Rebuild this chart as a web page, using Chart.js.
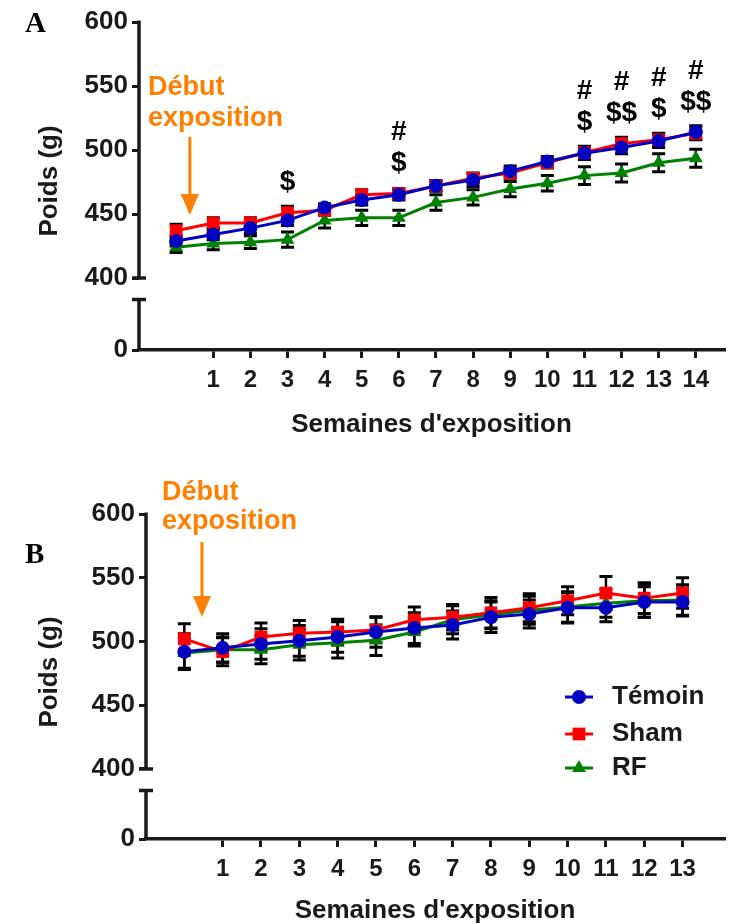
<!DOCTYPE html>
<html>
<head>
<meta charset="utf-8">
<script src="https://cdn.jsdelivr.net/npm/chart.js@4.4.0/dist/chart.umd.min.js"></script>
<style>
  body { margin: 0; background: #fff; width: 733px; height: 924px; position: relative; overflow: hidden; }
  .wrap { position: absolute; left: 0; width: 733px; }
  #wrapA { top: 0; height: 450px; }
  #wrapB { top: 470px; height: 470px; }
  .panel { position: absolute; left: 25px; font-family: "Liberation Serif", serif; font-weight: bold; font-size: 29px; line-height: 1; }
</style>
</head>
<body>
<div class="wrap" id="wrapA"><canvas id="chartA" width="733" height="450"></canvas></div>
<div class="wrap" id="wrapB"><canvas id="chartB" width="733" height="470"></canvas></div>
<div class="panel" style="top:8px">A</div>
<div class="panel" style="top:539px">B</div>
<script>
// Panel A : semaines 0..14
const weeksA = [0, 1, 2, 3, 4, 5, 6, 7, 8, 9, 10, 11, 12, 13, 14];
const temoinA = [429, 434, 439, 445, 455, 461, 465, 472, 476.5, 483.5, 491, 497.5, 502, 507, 514];
const shamA = [437, 443, 443, 451, 453, 465, 466, 472, 478, 482, 490, 498, 505, 508, 513];
const rfA = [424, 427, 428, 430, 445, 447, 447, 459, 463, 469.5, 474, 480, 482, 490, 493.5];
const temoinErrA = [4, 4, 4, 4, 3, 4, 4, 4, 5, 4, 4, 5, 5, 5, 5];
const shamErrA = [5, 4, 4, 5, 4, 4, 4, 4, 4, 4, 4, 5, 5, 5, 5];
const rfErrA = [4, 5, 5, 6, 6, 6, 6, 6, 6, 6, 6, 7, 7, 7, 7];

// annotations de significativite (panel A)
const starWeeks = [3, 6, 11, 12, 13, 14];
const hashMarks = ['', '#', '#', '#', '#', '#'];
const dollarMarks = ['$', '$', '$', '$$', '$', '$$'];

// Panel B : semaines 0..13
const weeksB = [0, 1, 2, 3, 4, 5, 6, 7, 8, 9, 10, 11, 12, 13];
const temoinB = [492, 495, 498, 500.5, 503.5, 507.5, 510.5, 513, 519, 521.5, 526.5, 526.5, 531, 531];
const shamB = [502, 492, 503.5, 506.5, 507.5, 509, 517, 519, 522.5, 526.5, 532, 538, 534, 538];
const rfB = [491, 493.5, 493.5, 497.5, 499, 501, 507.5, 517, 521, 524.5, 527, 530, 532, 532.5];
const temoinErrB = [14, 11, 12, 12, 12, 12, 12, 11, 12, 11, 12, 11, 12, 11];
const shamErrB = [12, 11, 11, 10, 10, 10, 10, 10, 12, 11, 11, 13, 12, 12];
const rfErrB = [12, 10, 11, 12, 12, 12, 11, 11, 11, 11, 12, 11, 13, 12];

const yTicks = [400, 450, 500, 550, 600];
const seriesNames = ['Témoin', 'Sham', 'RF'];

const BLUE = '#0000c0';
const RED = '#ff0000';
const GREEN = '#008000';
const ORANGE = '#ff8000';
const AXIS = '#1a1a1a';
const FONT = '"Liberation Sans", Arial, sans-serif';

Chart.defaults.font.family = FONT;
Chart.defaults.font.weight = 'bold';
Chart.defaults.color = AXIS;

const styles = [
  { color: BLUE, pointStyle: 'circle', radius: 7 },
  { color: RED, pointStyle: 'rect', radius: 9 },
  { color: GREEN, pointStyle: 'triangle', radius: 8 }
];

function makeDataset(i, weeks, values, errors) {
  const s = styles[i];
  return {
    label: seriesNames[i],
    data: weeks.map((w, k) => ({ x: w, y: values[k] })),
    errors: errors,
    xAxisID: 'x',
    yAxisID: 'y',
    borderColor: s.color,
    backgroundColor: s.color,
    borderWidth: 3,
    pointStyle: s.pointStyle,
    pointRadius: s.radius,
    pointBorderWidth: 0,
    tension: 0,
    clip: false
  };
}

// barres d'erreur (SEM)
const errorBars = {
  id: 'errorBars',
  beforeDatasetsDraw(chart) {
    const { ctx, scales: { x, y } } = chart;
    ctx.save();
    ctx.strokeStyle = '#000';
    chart.data.datasets.forEach(ds => {
      ds.data.forEach((p, k) => {
        const e = ds.errors[k];
        const px = x.getPixelForValue(p.x);
        const y1 = y.getPixelForValue(p.y + e);
        const y2 = y.getPixelForValue(p.y - e);
        ctx.lineWidth = 2.5;
        ctx.beginPath();
        ctx.moveTo(px, y1); ctx.lineTo(px, y2);
        ctx.stroke();
        ctx.lineWidth = 3;
        ctx.beginPath();
        ctx.moveTo(px - 6.5, y1); ctx.lineTo(px + 6.5, y1);
        ctx.moveTo(px - 6.5, y2); ctx.lineTo(px + 6.5, y2);
        ctx.stroke();
      });
    });
    ctx.restore();
  }
};

// axe Y coupe (400-600 puis 0)
const brokenAxis = {
  id: 'brokenAxis',
  beforeDatasetsDraw(chart) {
    const { ctx, chartArea, scales: { y, y0 } } = chart;
    const ax = chartArea.left;
    const top = y.getPixelForValue(600) - 1.5;
    const low = y.getPixelForValue(400);
    const cap = y0.top + 1.5;
    const zero = y0.getPixelForValue(0);
    ctx.save();
    ctx.strokeStyle = AXIS;
    ctx.lineWidth = 3.5;
    ctx.beginPath();
    ctx.moveTo(ax, top); ctx.lineTo(ax, low);
    ctx.moveTo(ax - 7, low); ctx.lineTo(ax + 7, low);
    ctx.moveTo(ax, cap); ctx.lineTo(ax, zero);
    ctx.moveTo(ax - 7, cap); ctx.lineTo(ax + 7, cap);
    ctx.stroke();
    ctx.restore();
  }
};

// texte "Début exposition", fleche et titre Y
function decor(cfg) {
  return {
    id: 'decor',
    afterDraw(chart) {
      const { ctx, scales: { x } } = chart;
      ctx.save();
      ctx.fillStyle = ORANGE;
      ctx.font = 'bold 27px ' + FONT;
      ctx.textAlign = 'left';
      ctx.textBaseline = 'middle';
      ctx.fillText('Début', cfg.textX, cfg.line1);
      ctx.fillText('exposition', cfg.textX, cfg.line2);
      const ax = x.getPixelForValue(cfg.arrowWeek);
      ctx.strokeStyle = ORANGE;
      ctx.lineWidth = 3;
      ctx.beginPath();
      ctx.moveTo(ax, cfg.arrowTop);
      ctx.lineTo(ax, cfg.arrowTip - 18);
      ctx.stroke();
      ctx.beginPath();
      ctx.moveTo(ax - 9, cfg.arrowTip - 21);
      ctx.lineTo(ax + 9, cfg.arrowTip - 21);
      ctx.lineTo(ax, cfg.arrowTip);
      ctx.closePath();
      ctx.fill();
      // titre Y
      ctx.fillStyle = AXIS;
      ctx.font = 'bold 26px ' + FONT;
      ctx.textAlign = 'center';
      ctx.translate(cfg.titleX, cfg.titleY);
      ctx.rotate(-Math.PI / 2);
      ctx.fillText('Poids (g)', 0, 0);
      ctx.restore();
    }
  };
}

// $ et # au-dessus des points (panel A)
const signifMarks = {
  id: 'signifMarks',
  afterDatasetsDraw(chart) {
    const { ctx, scales: { x, y } } = chart;
    ctx.save();
    ctx.fillStyle = '#000';
    ctx.font = 'bold 28px ' + FONT;
    ctx.textAlign = 'center';
    ctx.textBaseline = 'middle';
    starWeeks.forEach((w, k) => {
      const top = Math.max(temoinA[w], shamA[w], rfA[w]);
      const px = x.getPixelForValue(w);
      const py = y.getPixelForValue(top);
      ctx.fillText(dollarMarks[k], px, py - 30);
      if (hashMarks[k]) ctx.fillText(hashMarks[k], px, py - 61);
    });
    ctx.restore();
  }
};

// legende (panel B)
const legendB = {
  id: 'legendB',
  afterDraw(chart) {
    const { ctx } = chart;
    const rows = [227, 264, 298];
    ctx.save();
    chart.data.datasets.forEach((ds, i) => {
      const ry = rows[i];
      ctx.strokeStyle = ds.borderColor;
      ctx.fillStyle = ds.borderColor;
      ctx.lineWidth = 3;
      ctx.beginPath();
      ctx.moveTo(565, ry); ctx.lineTo(593, ry);
      ctx.stroke();
      Chart.helpers.drawPoint(ctx, { pointStyle: ds.pointStyle, radius: ds.pointRadius, borderWidth: 0 }, 579, ry);
      ctx.fillStyle = AXIS;
      ctx.font = 'bold 26px ' + FONT;
      ctx.textBaseline = 'middle';
      ctx.fillText(ds.label, 612, ry);
    });
    ctx.restore();
  }
};

function buildChart(id, o) {
  const ctx = document.getElementById(id).getContext('2d');
  const tickFont = { size: 26, weight: 'bold' };
  return new Chart(ctx, {
    type: 'line',
    data: { datasets: o.datasets },
    options: {
      responsive: false,
      animation: false,
      events: [],
      layout: { padding: { top: o.top, right: 0, bottom: 0, left: 0 } },
      plugins: { legend: { display: false }, tooltip: { enabled: false } },
      scales: {
        x: {
          type: 'linear',
          min: -1,
          max: o.xMax,
          afterBuildTicks: s => { s.ticks = o.xTicks.map(v => ({ value: v })); },
          afterFit: s => { s.height = o.xHeight; },
          border: { display: true, width: 3.5, color: AXIS },
          grid: { drawOnChartArea: false, drawTicks: true, tickLength: 8, lineWidth: 3, color: AXIS },
          ticks: { font: { size: 24, weight: 'bold' }, color: AXIS, padding: 8, maxRotation: 0, autoSkip: false },
          title: { display: true, text: "Semaines d'exposition", font: { size: 26, weight: 'bold' }, color: AXIS, padding: { top: 0, bottom: o.titlePad } }
        },
        // segment bas (0) : declare avant pour etre place en bas de la pile
        y0: {
          type: 'linear',
          position: 'left',
          stack: 'poids',
          stackWeight: o.lowerW,
          min: 0,
          max: 40,
          afterBuildTicks: s => { s.ticks = [{ value: 0 }]; },
          afterFit: s => { s.width = o.yWidth; },
          border: { display: false },
          grid: { drawOnChartArea: false, drawTicks: true, tickLength: 7, lineWidth: 3, color: AXIS },
          ticks: { font: tickFont, color: AXIS, padding: 4 }
        },
        y: {
          type: 'linear',
          position: 'left',
          stack: 'poids',
          stackWeight: o.upperW,
          min: o.yMin,
          max: 600,
          afterBuildTicks: s => { s.ticks = yTicks.map(v => ({ value: v })); },
          afterFit: s => { s.width = o.yWidth; },
          border: { display: false },
          grid: { drawOnChartArea: false, drawTicks: true, tickLength: 7, lineWidth: 3, color: AXIS },
          ticks: { font: tickFont, color: AXIS, padding: 4 }
        }
      }
    },
    plugins: o.plugins
  });
}

buildChart('chartA', {
  datasets: [
    makeDataset(0, weeksA, temoinA, temoinErrA),
    makeDataset(1, weeksA, shamA, shamErrA),
    makeDataset(2, weeksA, rfA, rfErrA)
  ],
  top: 22, xMax: 14.76, xTicks: weeksA.slice(1), xHeight: 100, titlePad: 10,
  yMin: 384.4, upperW: 276, lowerW: 52, yWidth: 139,
  plugins: [brokenAxis, errorBars, signifMarks,
    decor({ textX: 148, line1: 88, line2: 119, arrowWeek: 0.37, arrowTop: 137, arrowTip: 215, titleX: 50, titleY: 181 })]
});

buildChart('chartB', {
  datasets: [
    makeDataset(0, weeksB, temoinB, temoinErrB),
    makeDataset(1, weeksB, shamB, shamErrB),
    makeDataset(2, weeksB, rfB, rfErrB)
  ],
  top: 44, xMax: 14.08, xTicks: weeksB.slice(1), xHeight: 101, titlePad: 14,
  yMin: 384.3, upperW: 275, lowerW: 50, yWidth: 146,
  plugins: [brokenAxis, errorBars, legendB,
    decor({ textX: 162, line1: 23, line2: 52, arrowWeek: 0.46, arrowTop: 72, arrowTip: 147, titleX: 50, titleY: 202 })]
});
</script>
</body>
</html>
